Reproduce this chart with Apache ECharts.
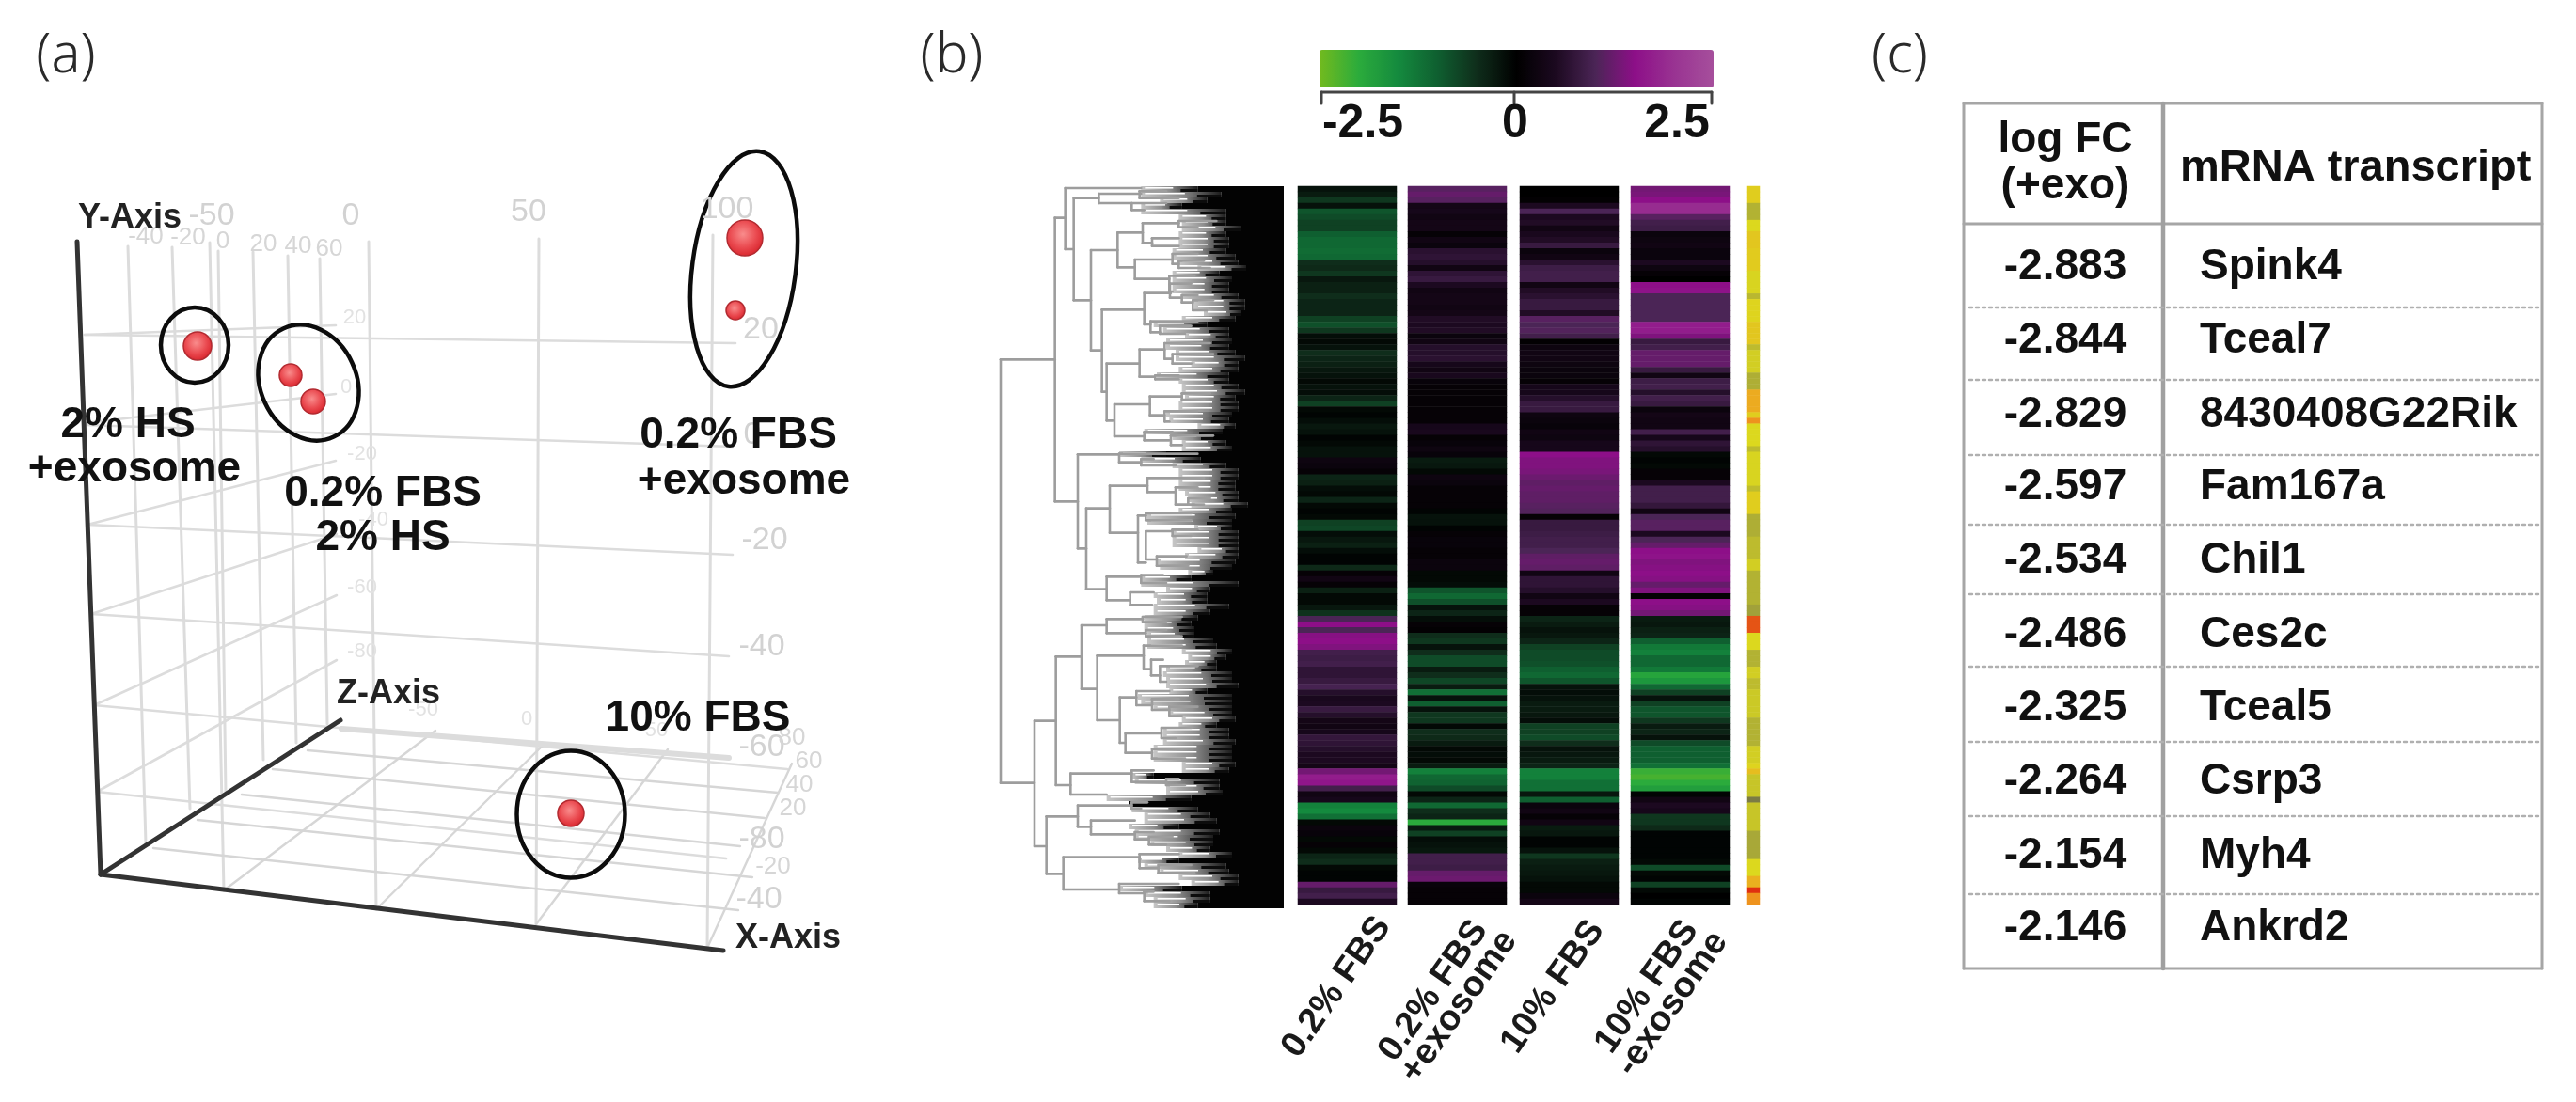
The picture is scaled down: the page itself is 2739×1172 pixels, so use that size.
<!DOCTYPE html>
<html><head><meta charset="utf-8">
<style>html,body{margin:0;padding:0;background:#fff}#c{width:2739px;height:1172px;filter:blur(0.7px)}</style>
<script src="https://cdn.jsdelivr.net/npm/echarts@6/dist/echarts.min.js"></script>
</head><body><div id="c"></div>
<script>
// ---------- panel (b) heat-map values, one per row ----------
const heatColumns = ["0.2% FBS","0.2% FBS\n+exosome","10% FBS","10% FBS\n-exosome"];
const col1 = [-.2,-.3,-.6,-.2,-.9,-.8,-.7,-.7,-1,-1.1,-1.1,-1.15,-1.1,-.5,-.45,-.6,-.25,-.35,-.35,-.5,-.4,-.4,-.4,-.7,-.85,-.6,-.15,-.1,-.2,-.5,-.4,-.35,-.25,-.2,-.1,-.2,-.15,-.4,-.7,-.1,-.05,-.15,-.25,-.2,-.05,-.1,-.2,-.2,.25,.2,.1,-.4,-.35,-.15,-.1,-.4,-.1,-.05,-.1,-.7,-.75,-.15,-.25,-.35,-.15,-.05,-.05,-.45,.1,.3,.1,-.35,-.1,-.1,-.25,-.55,1,1.5,1,1.45,1.5,1.4,.9,.85,.9,.7,.7,.8,.95,.6,.45,.5,.8,.6,.35,.3,.4,.75,.7,.6,.5,.5,.35,1.3,1.7,1.6,.9,.3,.4,-1.4,-1.5,-1.2,-.1,.2,.15,-.1,.1,-.1,-.4,-.5,-.1,-.05,-.05,1.2,.8,.9,.5];
const col2 = [1.1,1.2,1.1,.35,.4,.3,.35,.35,.1,.3,.2,.65,.7,.6,.3,.7,.8,.5,.3,.35,.35,.3,.35,.55,.5,.55,.2,.3,.6,.6,.65,.4,.3,.45,.15,.1,.1,.1,.1,.1,.1,.1,.4,.45,.1,.15,.25,.15,-.3,-.25,-.1,.25,.2,.1,.1,.1,.1,-.05,-.2,-.2,-.05,.1,.15,.15,.1,.1,.2,.2,-.1,-.1,-.15,-.9,-1.1,-.85,-.2,-.4,-.15,.1,.05,-.5,-.6,-.2,-.5,-.8,-.8,-.3,-.5,-.75,-.3,-1.2,-.2,-1,-.2,-.6,-.6,-.1,-.5,-.45,-.3,-.1,-.15,-.1,-.3,-1.4,-1.1,-1.05,-.8,-.1,-.4,-1.1,-.5,-.4,-2,-.3,-.7,-.15,-.2,-.25,.9,.9,.85,1.2,1.25,.15,.1,.1,.1];
const col3 = [0,0,.05,.5,1,.5,.55,.3,.45,.55,.8,.2,.3,.65,.85,.9,.9,.3,.55,.65,.8,.8,.55,1.1,1,1.05,.9,.05,.25,.3,.3,.25,.2,.2,.1,.4,.4,.6,.8,.8,.25,.2,.15,.3,.25,.4,.4,1.5,1.4,1.4,1.35,1.25,1.15,1.2,1.15,1.15,1.1,1.05,.1,.8,.8,.85,.9,.9,1,1.15,1.2,1.15,.3,.7,.7,.6,.3,.5,.1,.1,-.4,-.3,-.2,-.25,-.4,-.7,-.8,-.8,-.85,-1,-1.1,-.9,-.2,-.15,-.2,-.3,-.3,-.25,-.15,-.7,-.7,-.8,-.5,-.2,-.25,-.3,-.4,-1.4,-1.4,-1.2,-1.2,-.25,-1,.2,.3,.1,.3,-.3,-.25,-.05,-.05,-.2,-.6,-.35,-.3,-.25,-.2,-.1,-.1,.2,.35];
const col4 = [1.3,1.35,1.5,1.9,1.9,1.1,.9,.85,.2,.25,.3,.2,.2,.5,.25,.1,0,1.5,1.55,1,1,1,1,1,1.7,1.7,1.4,.8,.9,1.2,1.2,1.2,.8,.3,.85,.9,.6,.9,.8,.2,.35,.3,.3,.9,.4,.7,.6,-.1,-.05,-.1,.1,.1,.5,.9,.9,.9,.75,.3,1,1.1,1.1,.5,1,1.2,1.5,1.55,1.4,1.45,1.5,1.45,1.2,1.4,.1,1.5,1.45,1.3,-.3,-.25,-.35,-.4,-1,-1.3,-1.4,-1.1,-1.1,-1.3,-1.9,-1.7,-1.1,-.7,-.2,-.7,-.9,-.9,-.6,-.3,-.4,-.2,-.8,-1,-1,-1,-1.2,-2.1,-2.2,-2,-1.8,-.05,.3,.5,.4,-.6,-.6,-.45,-.05,-.05,-.05,-.05,-.05,-.1,-.8,-.1,-.05,-.7,-.1,0,-.05];
const annotation = [55,55,55,30,30,30,50,50,58,58,58,56,56,56,56,48,48,48,48,33,52,52,52,52,58,58,58,58,35,45,45,45,45,28,28,28,70,70,70,70,55,78,50,50,50,50,35,48,48,48,48,48,48,36,55,55,55,55,28,28,28,28,35,35,35,35,45,45,30,30,30,30,30,30,22,22,92,92,92,50,50,50,30,30,30,45,45,35,35,42,42,42,42,42,30,30,30,30,30,45,45,45,52,62,40,40,40,40,5,40,40,40,40,40,25,25,25,25,25,50,50,50,68,68,100,78,78];
const scaleTicks = ["-2.5","0","2.5"];
// ---------- panel (b) dendrogram: [x, yTop, yBottom, xTopEnd, xBottomEnd] in tree units ----------
const treeBrackets = [[72,577,1928,245,180],[245,125,1030,278,318],[278,30,225,520,305],[305,62,388,385,360],[385,48,78,520,490],[490,78,100,600,530],[515,40,62,600,640],[360,228,548,445,395],[445,172,283,525,500],[525,142,205,640,555],[640,135,155,760,700],[555,190,215,640,640],[500,258,320,620,610],[620,240,272,700,640],[640,262,285,720,740],[610,310,360,690,620],[395,418,680,530,410],[530,365,465,615,550],[612,335,380,680,650],[650,372,395,700,685],[685,388,420,750,730],[550,455,490,700,580],[580,470,495,680,660],[410,590,772,515,430],[515,545,632,595,560],[595,525,575,740,620],[620,560,590,750,680],[565,628,640,640,640],[435,720,822,548,530],[548,695,755,650,595],[650,685,705,740,720],[595,742,775,700,610],[530,808,835,620,610],[615,820,850,750,650],[318,880,1180,450,345],[450,878,905,700,520],[520,895,915,560,630],[345,1052,1310,420,410],[420,980,1130,540,510],[540,955,1000,720,630],[630,985,1040,700,670],[670,1020,1040,740,720],[510,1075,1225,535,535],[535,1068,1090,680,680],[535,1125,1215,620,570],[620,1120,1140,700,680],[570,1205,1235,665,670],[410,1270,1345,515,485],[520,1265,1290,590,600],[485,1320,1360,560,555],[180,1730,2130,248,218],[248,1525,1935,330,295],[330,1425,1628,410,380],[410,1405,1450,525,535],[525,1398,1415,650,600],[535,1440,1460,600,650],[380,1522,1728,528,452],[528,1490,1565,650,552],[552,1535,1585,590,580],[580,1555,1605,700,600],[452,1655,1800,505,470],[505,1635,1680,610,555],[555,1660,1695,640,610],[610,1685,1715,700,650],[470,1770,1832,585,555],[585,1752,1785,680,630],[555,1820,1850,650,660],[295,1898,1965,490,410],[490,1888,1925,560,600],[600,1915,1935,640,660],[218,2035,2218,318,272],[318,2000,2068,490,360],[490,1990,2010,540,520],[360,2048,2092,500,500],[500,2085,2108,560,545],[545,2100,2125,620,600],[272,2165,2268,515,450],[515,2155,2200,640,575],[575,2190,2215,680,690],[450,2250,2280,640,530],[530,2275,2305,560,610]];
const leafStart = [520,520,580,520,520,640,650,650,640,640,640,620,620,640,700,620,620,620,620,650,690,690,720,650,560,590,660,600,600,630,630,680,640,570,640,650,650,660,640,640,600,610,700,530,620,650,650,450,520,620,640,640,640,640,660,670,680,640,540,540,690,620,620,620,700,660,570,580,670,520,520,600,560,570,560,560,530,530,530,540,540,540,650,670,660,600,590,600,600,610,510,520,560,610,650,640,590,590,590,560,560,560,650,650,490,500,600,600,410,490,490,530,530,480,500,500,550,600,640,510,530,580,640,680,450,530,560,560];
const leafEdge = [700,775,730,650,790,790,790,840,790,800,800,790,820,830,855,770,810,800,800,830,850,850,840,820,730,800,800,810,800,820,850,830,830,800,800,830,850,820,830,830,810,800,820,780,750,790,810,600,710,790,830,830,820,820,830,830,860,810,820,810,810,830,830,830,830,830,820,810,750,680,830,740,730,730,800,740,700,680,690,690,750,760,810,790,760,760,810,810,830,730,810,810,810,810,820,760,800,800,820,810,810,810,820,800,560,770,770,780,680,480,700,740,760,640,770,750,750,740,810,640,790,800,830,830,650,740,740,700];
// ---------- panel (a) 3-D view: projected screen values of the grid lines and the samples ----------
const axisLines3d = [[82,257,107,930],[107,930,769,1011],[107,930,362,766]];
const frontVerticals = [[223,258,238,947],[392,257,400,967],[573,254,570,983],[758,250,752,1008]];
const depthVerticals = [[136,262,155,897],[183,263,202,860],[232,267,240,845],[269,268,280,808],[306,272,315,790],[340,275,348,770]];
const frontLevels = [[90,356,782,365],[91,452,779,475],[93,558,779,590],[97,653,775,698],[100,750,837,818],[103,842,772,913]];
const wallLevels = [[90,356,357,346],[90,450,357,419],[93,558,357,490],[97,653,358,568],[100,750,358,633],[103,842,358,702]];
const floorDepth = [[327,798,827,843],[290,818,813,870],[257,845,787,900],[210,872,800,933],[163,902,785,968]];
const floorAcross = [[238,947,463,777],[400,967,580,790],[570,983,710,797],[752,1008,842,812]];
const floorBack = [[363,775,775,806]];
const samples = [[210,368,30],[309,399,24],[333,427,26],[792,253,38],[782,330,20],[607,865,28]];
const groupRings = [[207,367,36,40,0],[328,407,51,63.5,25],[791,286,55,126,-7.5],[607,866,57.5,67.5,0]];
const groupLabels = [["2% HS",136,452],["+exosome",143,499],["0.2% FBS",407,525],["2% HS",407,572],["0.2% FBS",785,463],["+exosome",791,512],["10% FBS",742,764]];
const axisNames = [["Y-Axis",138,232],["Z-Axis",413,738],["X-Axis",838,998]];
const tickLabelsLarge = [["-50",225,230],["0",373,230],["50",562,226],["100",773,223],["20",809,351],["0",800,463],["-20",813,575],["-40",810,688],["-60",810,795],["-80",810,893],["-40",807,957]];
const tickLabelsMedium = [["-40",155,252],["-20",200,253],["0",237,257],["20",280,260],["40",317,262],["60",350,265],["80",842,785],["60",860,810],["40",850,835],["20",843,860],["-20",822,922]];
const tickLabelsSmall = [["20",377,338],["0",368,412],["-20",385,483],["-40",397,553],["-60",385,625],["-80",385,693],["-50",450,755],["0",560,765],["50",698,777]];
// ---------- panel (c) table ----------
const logFC = ["-2.883","-2.844","-2.829","-2.597","-2.534","-2.486","-2.325","-2.264","-2.154","-2.146"];
const transcripts = ["Spink4","Tceal7","8430408G22Rik","Fam167a","Chil1","Ces2c","Tceal5","Csrp3","Myh4","Ankrd2"];
const tableHeader = [["log FC",2196,149],["(+exo)",2196,198]];
const tableHeader2 = [["mRNA transcript",2318,179]];
const rowCentres = [284,362,441,518,596,675,753,831,910,987];
const rowRules = [327,404,484,558,632,709,789,868,951];
const panelTags = [["(a)",70,60],["(b)",1012,60],["(c)",2020,60]];

// ---------- layout ----------
const heatX = [1380,1497,1616,1734];
const heatW = 105, heatTop = 198, heatH = 764;
const rows = col1.map((_, i) => String(i));
const FONT = '"Liberation Sans", Arial, sans-serif';
const TABLE_RIGHT = 2703;

const grids = [{left:0,top:0,width:2739,height:1172,show:false},{left:1040,top:190,width:330,height:780,show:false}];
const xAxes = [{type:'value',gridIndex:0,min:0,max:2739,show:false},{type:'value',gridIndex:1,min:0,max:990,show:false}];
const yAxes = [{type:'value',gridIndex:0,min:0,max:1172,inverse:true,show:false},{type:'value',gridIndex:1,min:0,max:2340,inverse:true,show:false}];

function addGrid(left, width, name) {
  grids.push({left, top:heatTop, width, height:heatH, show:false});
  const i = grids.length - 1;
  xAxes.push({type:'category',gridIndex:i,data:[name],show:false});
  yAxes.push({type:'category',gridIndex:i,data:rows,inverse:true,show:false});
  return i;
}
const series = [];
const heatSeriesIdx = [];
[col1,col2,col3,col4].forEach((vals, c) => {
  const g = addGrid(heatX[c], heatW, heatColumns[c]);
  heatSeriesIdx.push(series.length);
  series.push({type:'heatmap',name:heatColumns[c],xAxisIndex:g,yAxisIndex:g,data:vals.map((v,r)=>[0,r,v]),silent:true,progressive:0,animation:false});
});
const annotGrid = addGrid(1858, 13, 'annotation');
const annotIdx = series.length;
series.push({type:'heatmap',xAxisIndex:annotGrid,yAxisIndex:annotGrid,data:annotation.map((v,r)=>[0,r,v]),silent:true,progressive:0,animation:false});

function lineSeries(segs, color, width, g, dash) {
  series.push({type:'custom',xAxisIndex:g||0,yAxisIndex:g||0,silent:true,animation:false,clip:false,data:segs,
    renderItem:(p,api)=>{
      const a=api.coord([api.value(0),api.value(1)]), b=api.coord([api.value(2),api.value(3)]);
      return {type:'line',shape:{x1:a[0],y1:a[1],x2:b[0],y2:b[1]},style:{stroke:color,lineWidth:width,lineDash:dash||null,lineCap:'round',fill:null}};
    }});
}
function textSeries(items, font, color, extra) {
  series.push({type:'scatter',xAxisIndex:0,yAxisIndex:0,symbolSize:0,silent:true,animation:false,clip:false,z:6,
    itemStyle:{opacity:1},
    data:items.map(t=>({value:[t[1],t[2]],name:t[0]})),
    label:Object.assign({show:true,position:'inside',formatter:'{b}',color,opacity:1,fontFamily:FONT,fontSize:font,fontWeight:'bold',align:'center',verticalAlign:'middle'},extra||{})});
}

// dendrogram leaf fringe, black block, then branches
const fringeY = i => 24 + 18*i;
series.push({type:'custom',xAxisIndex:1,yAxisIndex:1,silent:true,animation:false,clip:false,
  data:leafEdge.map((e,i)=>[leafStart[i],e,i]),
  renderItem:(p,api)=>{
    const s=api.value(0), e=api.value(1), i=api.value(2);
    const y0=fringeY(i), a=api.coord([s,y0]), b=api.coord([e,y0+18]), k=api.coord([975,y0+18]);
    const h=b[1]-a[1], w=b[0]-a[0];
    const grad=new echarts.graphic.LinearGradient(0,0,1,0,[{offset:0,color:'#c6c6c6'},{offset:.5,color:'#8e8e8e'},{offset:1,color:'#1c1c1c'}]);
    return {type:'group',children:[
      {type:'rect',shape:{x:a[0],y:a[1],width:w,height:h},style:{fill:grad}},
      {type:'rect',shape:{x:a[0]+4,y:a[1]+1,width:w*.5,height:1.6},style:{fill:'#ffffff'}},
      {type:'rect',shape:{x:a[0]+w*.7,y:a[1]+h/2,width:w*.3,height:h/2},style:{fill:'#0c0c0c'}},
      {type:'rect',shape:{x:b[0],y:a[1],width:k[0]-b[0],height:h},style:{fill:'#030303'}}
    ]};
  }});
const treeSegs=[];
treeBrackets.forEach(b=>{treeSegs.push([b[0],b[1],b[0],b[2]],[b[0],b[1],b[3],b[1]],[b[0],b[2],b[4],b[2]]);});
lineSeries(treeSegs,'#9d9d9d',2.6,1);

// panel (a) grid lines
const GRID='#dcdcdc';
lineSeries(frontVerticals.concat(depthVerticals),GRID,3);
lineSeries(frontLevels.concat(wallLevels),GRID,2.6);
lineSeries(floorDepth.concat(floorAcross),'#d6d6d6',2.4);
lineSeries(floorBack,GRID,6);
lineSeries(axisLines3d,'#333333',5);
textSeries(tickLabelsLarge,34,'#d2d2d2',{fontWeight:'normal'});
textSeries(tickLabelsMedium,26,'#d6d6d6',{fontWeight:'normal'});
textSeries(tickLabelsSmall,22,'#e2e2e2',{fontWeight:'normal'});
// sample groups
series.push({type:'custom',xAxisIndex:0,yAxisIndex:0,silent:true,animation:false,clip:false,data:groupRings,z:4,
  renderItem:(p,api)=>{
    const c=api.coord([api.value(0),api.value(1)]), s=api.size([api.value(2),api.value(3)]);
    return {type:'ellipse',x:c[0],y:c[1],rotation:api.value(4)*Math.PI/180,shape:{cx:0,cy:0,rx:s[0],ry:s[1]},style:{fill:null,stroke:'#0c0c0c',lineWidth:4.5}};
  }});
series.push({type:'scatter',xAxisIndex:0,yAxisIndex:0,silent:true,animation:false,z:5,data:samples,
  symbolSize:v=>v[2],
  itemStyle:{color:new echarts.graphic.RadialGradient(.45,.4,.6,[{offset:0,color:'#f98c8c'},{offset:.6,color:'#ea4a50'},{offset:1,color:'#d9262e'}]),borderColor:'#b22a30',borderWidth:1.5,opacity:1}});
textSeries(groupLabels,46,'#111111');
textSeries(axisNames,36,'#222222');
textSeries(panelTags,58,'#2a2a2a',{fontFamily:'"Noto Sans", sans-serif',fontWeight:300});

// colour scale bracket and tick labels
lineSeries([[1405,98,1820,98],[1405,98,1405,110],[1610,98,1610,110],[1820,98,1820,110]],'#444444',3);
textSeries([[scaleTicks[0],1449,132],[scaleTicks[1],1611,132],[scaleTicks[2],1783,132]],50,'#111111');

// column labels
const colLabelAnchors = [[1471,979],[1574,983,1605,994],[1698,983],[1798,983,1829,995]];
heatColumns.forEach((c,i)=>{
  c.split('\n').forEach((line,j)=>{
    const a=colLabelAnchors[i];
    textSeries([[line,a[j*2],a[j*2+1]]],38,'#1a1a1a',{rotate:55,align:'right'});
  });
});

// table
const tableRules=[[2088,110,TABLE_RIGHT,110],[2088,238,TABLE_RIGHT,238],[2088,1030,TABLE_RIGHT,1030],[2088,110,2088,1030],[TABLE_RIGHT,110,TABLE_RIGHT,1030]];
lineSeries(tableRules,'#a6a6a6',3);
lineSeries([[2300,110,2300,1030]],'#a0a0a0',4.5);
lineSeries(rowRules.map(y=>[2094,y,TABLE_RIGHT,y]),'#b0b0b0',2.4,0,[3,4]);
textSeries(tableHeader,46,'#111111');
textSeries(tableHeader2,47,'#111111',{align:'left'});
textSeries(logFC.map((t,i)=>[t,2196,rowCentres[i]]),46,'#111111');
textSeries(transcripts.map((t,i)=>[t,2339,rowCentres[i]]),46,'#111111',{align:'left'});

const chart = echarts.init(document.getElementById('c'),null,{renderer:'canvas',width:2739,height:1172});
chart.setOption({
  animation:false,backgroundColor:'#ffffff',
  grid:grids,xAxis:xAxes,yAxis:yAxes,
  visualMap:[
    {type:'continuous',min:-2.5,max:2.5,seriesIndex:heatSeriesIdx,orient:'horizontal',left:1403,top:53,padding:0,itemWidth:40,itemHeight:419,text:null,showLabel:false,calculable:false,realtime:false,hoverLink:false,
     inRange:{color:['#72ba1e','#2bab3c','#148a3e','#0f5f30','#0f2d1b','#000000','#1c0920','#4b2556','#8d0f88','#993392','#a64f9c']}},
    {type:'continuous',min:0,max:100,seriesIndex:annotIdx,show:false,
     inRange:{color:['#707048','#a8a838','#dcd81e','#f0a020','#e03010']}}
  ],
  series
});
</script></body></html>
